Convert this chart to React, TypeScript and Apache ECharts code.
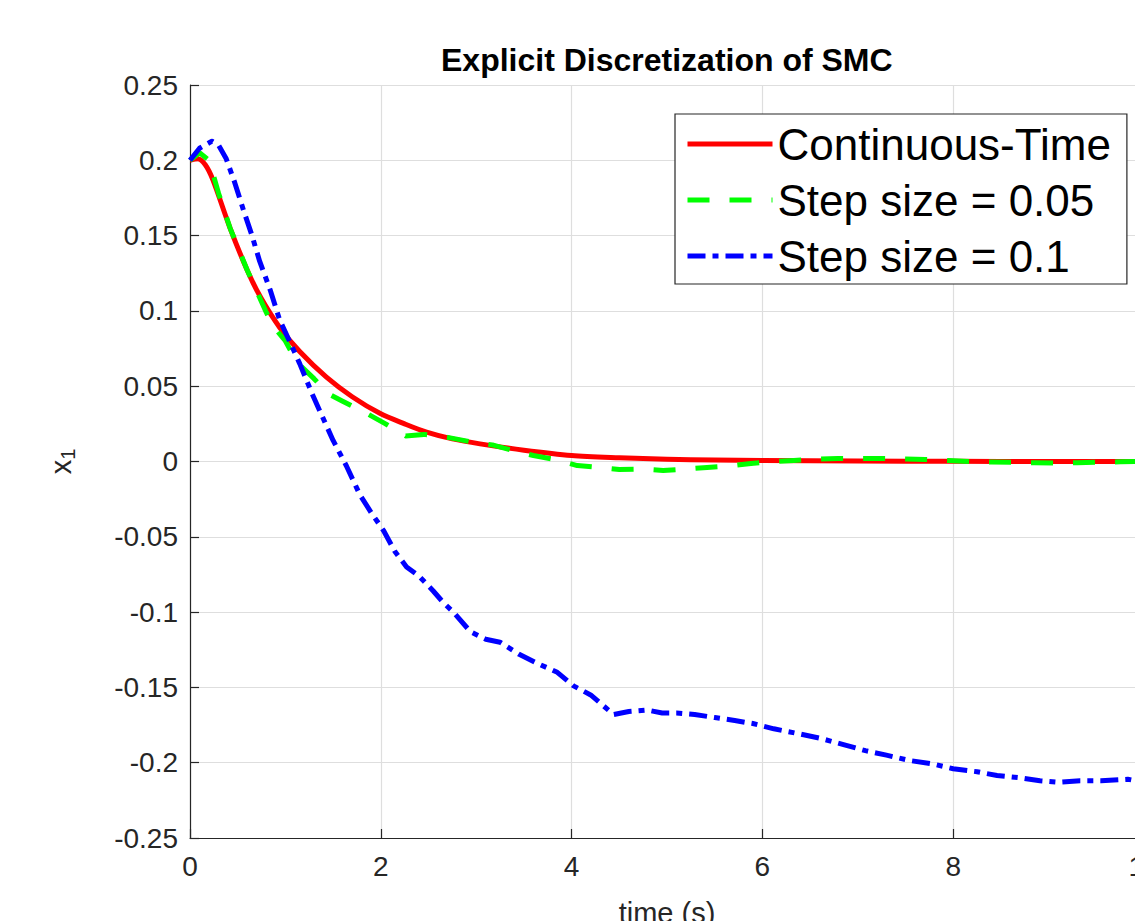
import React, { useEffect, useRef } from "react";
import * as echarts from "echarts";

const seriesNames = ["Continuous-Time", "Step size = 0.05", "Step size = 0.1"];

const tRed = [0, 0.08, 0.16, 0.24, 0.42, 0.6, 0.74, 0.94, 1.15, 1.43, 1.7, 1.99, 2.25, 2.48, 2.75, 3.04, 3.5, 4.0, 4.5, 5.0, 5.5, 6.0, 7, 8, 9, 10];
const xRed = [0.2, 0.201, 0.197, 0.187, 0.155, 0.127, 0.109, 0.089, 0.073, 0.056, 0.043, 0.032, 0.025, 0.0195, 0.015, 0.0117, 0.0075, 0.004, 0.0025, 0.0015, 0.001, 0.0007, 0.0003, 0.0001, 0, 0];

const tGreen = [0, 0.1, 0.2, 0.3, 0.42, 0.6, 0.8, 0.87, 1.0, 1.12, 1.3, 1.45, 1.6, 1.85, 2.05, 2.26, 2.45, 2.7, 2.95, 3.17, 3.4, 3.6, 3.85, 4.06, 4.3, 4.5, 4.75, 4.96, 5.2, 5.42, 5.65, 5.88, 6.1, 6.33, 6.55, 6.79, 7.0, 7.24, 7.5, 7.71, 7.95, 8.17, 8.4, 8.62, 8.85, 9.08, 9.3, 9.53, 9.75, 10];
const xGreen = [0.2, 0.205, 0.2, 0.178, 0.155, 0.127, 0.099, 0.09, 0.08, 0.066, 0.055, 0.045, 0.04, 0.032, 0.025, 0.017, 0.018, 0.016, 0.013, 0.011, 0.007, 0.004, 0.001, -0.0027, -0.004, -0.0053, -0.005, -0.006, -0.005, -0.004, -0.003, -0.0013, 0, 0.0007, 0.0015, 0.002, 0.002, 0.002, 0.0016, 0.0013, 0.0007, 0, -0.0003, -0.0005, -0.0008, -0.001, -0.0008, -0.0005, -0.0002, 0];

const tBlue = [0, 0.1, 0.23, 0.3, 0.38, 0.47, 0.56, 0.65, 0.73, 0.84, 0.94, 1.05, 1.15, 1.28, 1.4, 1.5, 1.64, 1.78, 1.9, 2.03, 2.15, 2.27, 2.4, 2.55, 2.66, 2.76, 2.94, 3.1, 3.25, 3.45, 3.64, 3.85, 4.02, 4.2, 4.44, 4.6, 4.79, 4.95, 5.1, 5.29, 5.5, 5.71, 5.9, 6.12, 6.4, 6.62, 6.85, 7.08, 7.3, 7.54, 7.8, 8.0, 8.25, 8.46, 8.7, 8.91, 9.1, 9.33, 9.55, 9.83, 10];
const xBlue = [0.2, 0.208, 0.2127, 0.21, 0.201, 0.185, 0.167, 0.15, 0.133, 0.114, 0.094, 0.079, 0.065, 0.045, 0.028, 0.014, -0.003, -0.022, -0.034, -0.046, -0.06, -0.07, -0.076, -0.086, -0.094, -0.1, -0.113, -0.118, -0.12, -0.128, -0.134, -0.14, -0.149, -0.155, -0.168, -0.166, -0.165, -0.167, -0.167, -0.168, -0.17, -0.172, -0.174, -0.1775, -0.181, -0.184, -0.188, -0.192, -0.195, -0.1985, -0.201, -0.204, -0.206, -0.2085, -0.21, -0.212, -0.213, -0.212, -0.212, -0.211, -0.213];

const xTicks = [0, 2, 4, 6, 8, 10];
const yTicks = [-0.25, -0.2, -0.15, -0.1, -0.05, 0, 0.05, 0.1, 0.15, 0.2, 0.25];

const FONT = "'Liberation Sans', Arial, Helvetica, sans-serif";

function pairs(t: number[], v: number[]) {
  return t.map((x, i) => [x, v[i]]);
}

export default function App() {
  const ref = useRef<HTMLDivElement>(null);
  useEffect(() => {
    if (!ref.current) return;
    const chart = echarts.init(ref.current, undefined, { renderer: "svg" });
    const axisColor = "#262626";
    chart.setOption({
      animation: false,
      backgroundColor: "#ffffff",
      title: {
        text: "Explicit Discretization of SMC",
        left: 441,
        top: 44,
        padding: 0,
        textStyle: { fontFamily: FONT, fontSize: 32, fontWeight: "bold", color: "#000" },
      },
      legend: {
        orient: "vertical",
        left: 675,
        top: 114,
        padding: [6, 16, 4, 10],
        itemGap: 8,
        itemWidth: 85,
        itemHeight: 20,
        backgroundColor: "#ffffff",
        borderColor: axisColor,
        borderWidth: 1.2,
        borderRadius: 0,
        itemStyle: { opacity: 0 },
        lineStyle: { width: 5 },
        textStyle: { fontFamily: FONT, fontSize: 44, color: "#000", lineHeight: 48 },
        data: seriesNames,
      },
      grid: { left: 190, top: 85, width: 954, height: 753 },
      xAxis: {
        type: "value",
        min: xTicks[0],
        max: xTicks[xTicks.length - 1],
        interval: 2,
        name: "time (s)",
        nameLocation: "middle",
        nameGap: 60,
        nameTextStyle: { fontFamily: FONT, fontSize: 29, color: axisColor },
        axisLine: { show: true, onZero: false, lineStyle: { color: axisColor, width: 1.2 } },
        axisTick: { show: true, inside: true, length: 9, lineStyle: { color: axisColor, width: 1.2 } },
        axisLabel: { fontFamily: FONT, fontSize: 28, color: axisColor, margin: 14 },
        splitLine: { show: true, lineStyle: { color: "#dedede", width: 1.2 } },
      },
      yAxis: {
        type: "value",
        min: yTicks[0],
        max: yTicks[yTicks.length - 1],
        interval: 0.05,
        name: "x{sub|1}",
        nameLocation: "middle",
        nameRotate: 90,
        nameGap: 112,
        nameTextStyle: {
          fontFamily: FONT,
          fontSize: 29,
          color: axisColor,
          rich: { sub: { fontFamily: FONT, fontSize: 20, color: axisColor, verticalAlign: "bottom", padding: [14, 0, 0, 0] } },
        },
        axisLine: { show: true, lineStyle: { color: axisColor, width: 1.2 } },
        axisTick: { show: true, inside: true, length: 9, lineStyle: { color: axisColor, width: 1.2 } },
        axisLabel: {
          fontFamily: FONT,
          fontSize: 28,
          color: axisColor,
          margin: 12,
          formatter: (v: number) => String(Number(v.toFixed(2))),
        },
        splitLine: { show: true, lineStyle: { color: "#dedede", width: 1.2 } },
      },
      series: [
        {
          name: seriesNames[0],
          type: "line",
          data: pairs(tRed, xRed),
          symbol: "none",
          smooth: 0.3,
          z: 3,
          lineStyle: { color: "#ff0000", width: 5, join: "round" },
          itemStyle: { color: "#ff0000" },
        },
        {
          name: seriesNames[1],
          type: "line",
          data: pairs(tGreen, xGreen),
          symbol: "none",
          z: 4,
          lineStyle: { color: "#00ff00", width: 5, type: [22, 20], join: "round" },
          itemStyle: { color: "#00ff00" },
        },
        {
          name: seriesNames[2],
          type: "line",
          data: pairs(tBlue, xBlue),
          symbol: "none",
          z: 5,
          lineStyle: { color: "#0000ff", width: 5, type: [18, 7, 6, 7], join: "round" },
          itemStyle: { color: "#0000ff" },
        },
      ],
    });
    return () => chart.dispose();
  }, []);
  return (
    <div style={{ position: "fixed", left: 0, top: 0, width: 1135, height: 921, overflow: "hidden", background: "#fff" }}>
      <div ref={ref} style={{ width: 1170, height: 950 }} />
    </div>
  );
}
